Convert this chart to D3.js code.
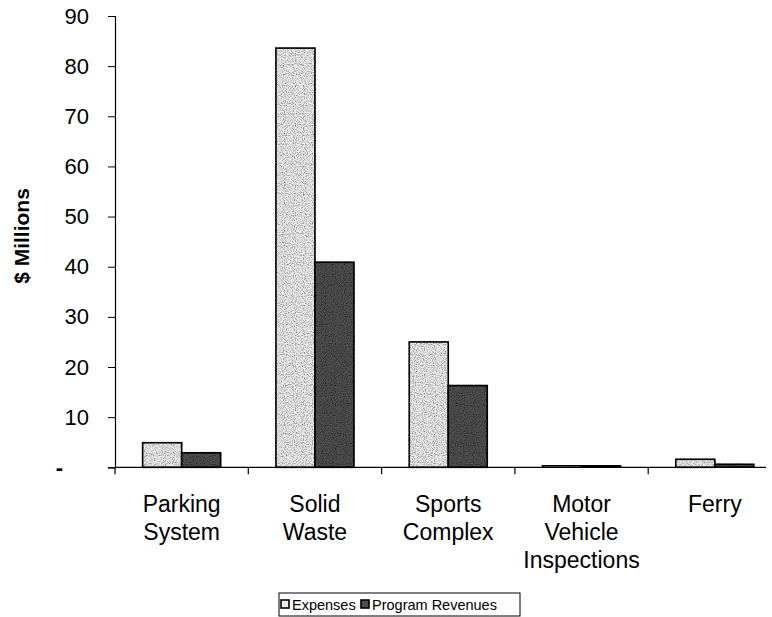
<!DOCTYPE html>
<html>
<head>
<meta charset="utf-8">
<script src="https://cdn.jsdelivr.net/npm/d3@7"></script>
<style>
  body { margin: 0; background: #fff; }
  #chart { width: 772px; height: 617px; }
  text { font-family: Arial, "Liberation Sans", sans-serif; fill: #000; }
</style>
</head>
<body>
<div id="chart"></div>
<script>
const categories = [
  ["Parking", "System"],
  ["Solid", "Waste"],
  ["Sports", "Complex"],
  ["Motor", "Vehicle", "Inspections"],
  ["Ferry"]
];
const expenses = [4.9, 83.6, 25, 0.4, 1.6];
const programRevenues = [2.9, 40.9, 16.3, 0.3, 0.6];
const yTicks = [0, 10, 20, 30, 40, 50, 60, 70, 80, 90];
const seriesNames = ["Expenses", "Program Revenues"];

const width = 772, height = 617;
const color = ["#ebebeb", "#4f4f4f"];

const svg = d3.select("#chart").append("svg")
  .attr("width", width)
  .attr("height", height);

const defs = svg.append("defs");
// speckle texture like the scanned original
const speck = defs.append("filter").attr("id", "speck");
speck.append("feTurbulence").attr("type", "fractalNoise").attr("baseFrequency", 0.9).attr("numOctaves", 1).attr("seed", 3).attr("result", "n");
speck.append("feColorMatrix").attr("in", "n").attr("type", "matrix")
  .attr("values", "0 0 0 0 0  0 0 0 0 0  0 0 0 0 0  0 0 0 -2.2 1.25").attr("result", "dots");
speck.append("feComposite").attr("in", "dots").attr("in2", "SourceGraphic").attr("operator", "in").attr("result", "d2");
speck.append("feMerge").call(m => {
  m.append("feMergeNode").attr("in", "SourceGraphic");
  m.append("feMergeNode").attr("in", "d2");
});

const left = 115, plotTop = 16, bottom = 467.3;
const names = categories.map(d => d.join(" "));

const x = d3.scaleBand().domain(names).range([left, 781.5]);
const y = d3.scaleLinear().domain([0, 90]).range([bottom, plotTop]);
const groupW = 78;
const xs = d3.scaleBand().domain(seriesNames).range([0, groupW]);

// bars
const series = [expenses, programRevenues];
series.forEach((vals, si) => {
  svg.append("g").selectAll("rect")
    .data(vals)
    .join("rect")
    .attr("x", (d, i) => x(names[i]) + (x.bandwidth() - groupW) / 2 + xs(seriesNames[si]))
    .attr("y", d => y(d))
    .attr("width", xs.bandwidth())
    .attr("height", d => bottom - y(d))
    .attr("fill", color[si])
    .attr("filter", "url(#speck)")
    .attr("stroke", "#000")
    .attr("stroke-width", 1.6);
});

// y axis
const yAxis = d3.axisLeft(y).tickValues(yTicks).tickSize(7).tickPadding(19)
  .tickFormat(d => d === 0 ? "-" : d);
const gy = svg.append("g").attr("transform", `translate(${left},0)`).call(yAxis);
gy.selectAll("text").attr("font-size", 22).attr("font-family", "Arial, 'Liberation Sans', sans-serif");
gy.selectAll("text").filter(d => d === 0).attr("dx", -26).attr("font-weight", "bold");
gy.select(".domain").attr("stroke", "#000").attr("stroke-width", 1.2);

// x axis
svg.append("line")
  .attr("x1", left).attr("x2", 766)
  .attr("y1", bottom).attr("y2", bottom)
  .attr("stroke", "#000").attr("stroke-width", 1.2);
const xTickPos = names.map(n => x(n)).concat([x(names[names.length - 1]) + x.bandwidth()]);
svg.append("g").selectAll("line")
  .data(xTickPos.filter(p => p < width))
  .join("line")
  .attr("x1", d => d).attr("x2", d => d)
  .attr("y1", bottom).attr("y2", bottom + 7)
  .attr("stroke", "#000").attr("stroke-width", 1.2);

const labels = svg.append("g").selectAll("text")
  .data(categories)
  .join("text")
  .attr("text-anchor", "middle")
  .attr("font-size", 23)
  .attr("x", (d, i) => x(names[i]) + x.bandwidth() / 2)
  .attr("y", 512);
labels.selectAll("tspan")
  .data(d => d)
  .join("tspan")
  .attr("x", function () { return d3.select(this.parentNode).attr("x"); })
  .attr("dy", (d, i) => i === 0 ? 0 : 28)
  .text(d => d);

// y title
svg.append("text")
  .attr("transform", "translate(29,236) rotate(-90)")
  .attr("text-anchor", "middle")
  .attr("font-size", 21)
  .attr("font-weight", "bold")
  .text("$ Millions");

// legend
const lg = svg.append("g").attr("transform", "translate(279,593)");
lg.append("rect").attr("width", 241).attr("height", 23)
  .attr("fill", "#fff").attr("stroke", "#000").attr("stroke-width", 1);
const items = [{ x: 2, name: seriesNames[0] }, { x: 82, name: seriesNames[1] }];
items.forEach((it, i) => {
  lg.append("rect").attr("x", it.x).attr("y", 7).attr("width", 8).attr("height", 8)
    .attr("fill", color[i]).attr("stroke", "#000").attr("stroke-width", 1.6);
  lg.append("text").attr("x", it.x + 11).attr("y", 16.5).attr("font-size", 14.5).text(it.name);
});
</script>
</body>
</html>
